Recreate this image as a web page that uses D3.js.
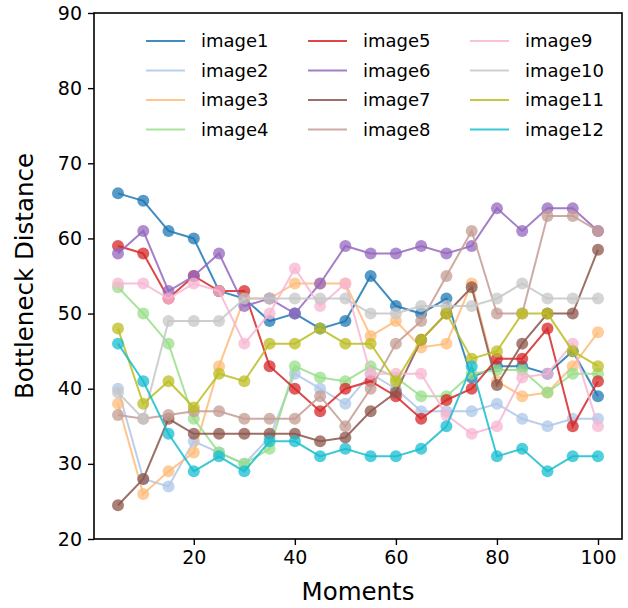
<!DOCTYPE html>
<html>
<head>
<meta charset="utf-8">
<script src="https://cdn.jsdelivr.net/npm/d3@7"></script>
<style>
  body { margin: 0; background: #fff; }
  svg text { font-family: "DejaVu Sans", sans-serif; fill: #000; }
</style>
</head>
<body>
<svg id="chart" width="628" height="608"></svg>
<script>
// moments on the x axis
var moments = [5, 10, 15, 20, 25, 30, 35, 40, 45, 50, 55, 60, 65, 70, 75, 80, 85, 90, 95, 100];

var image1  = [66, 65, 61, 60, 53, 52, 49, 50, 48, 49, 55, 51, 50, 52, 41.5, 43, 43, 42, 45, 39];
var image2  = [40, 28, 27, 33, 31.5, 30, 33.5, 42, 40, 38, 42, 40, 37, 37, 37, 38, 36, 35, 36, 36];
var image3  = [38, 26, 29, 31.5, 43, 52, 52, 54, 54, 54, 47, 49, 45.5, 46, 54, 41, 39, 39.5, 43, 47.5];
var image4  = [53.5, 50, 46, 36, 31.5, 30, 32, 43, 41.5, 41, 43, 41.5, 39, 39, 42, 42.5, 42.5, 39.5, 42, 42];
var image5  = [59, 58, 52, 55, 53, 53, 43, 40, 37, 40, 41, 39, 36, 38.5, 40, 44, 44, 48, 35, 41];
var image6  = [58, 61, 53, 55, 58, 51, 52, 50, 54, 59, 58, 58, 59, 58, 59, 64, 61, 64, 64, 61];
var image7  = [24.5, 28, 36, 34, 34, 34, 34, 34, 33, 33.5, 37, 39.5, 46.5, 50, 53.5, 40.5, 46, 50, 50, 58.5];
var image8  = [36.5, 36, 36.5, 37, 37, 36, 36, 36, 39, 35, 40, 46, 49, 55, 61, 50, 50, 63, 63, 61];
var image9  = [54, 54, 52, 54, 53, 46, 50, 56, 51, 54, 42, 42, 42, 36.5, 34, 35, 41.5, 42, 46, 35];
var image10 = [39.5, 36, 49, 49, 49, 52, 52, 52, 52, 52, 50, 50, 51, 51, 51, 52, 54, 52, 52, 52];
var image11 = [48, 38, 41, 37.5, 42, 41, 46, 46, 48, 46, 46, 41, 46.5, 50, 44, 45, 50, 50, 45, 43];
var image12 = [46, 41, 34, 29, 31, 29, 33, 33, 31, 32, 31, 31, 32, 35, 43, 31, 32, 29, 31, 31];

var seriesNames  = ["image1", "image2", "image3", "image4", "image5", "image6",
                    "image7", "image8", "image9", "image10", "image11", "image12"];
var seriesValues = [image1, image2, image3, image4, image5, image6,
                    image7, image8, image9, image10, image11, image12];
var xTicks = [20, 40, 60, 80, 100];
var yTicks = [20, 30, 40, 50, 60, 70, 80, 90];

// tab20, even entries and light entries as matplotlib hands them out
var colors = ["#1f77b4", "#aec7e8", "#ffbb78", "#98df8a", "#d62728", "#9467bd",
              "#8c564b", "#c49c94", "#f7b6d2", "#c7c7c7", "#bcbd22", "#17becf"];

var gMargin = {top: 13, right: 6, bottom: 69, left: 94};
var gWidth  = 628 - gMargin.left - gMargin.right;
var gHeight = 608 - gMargin.top - gMargin.bottom;

var svg = d3.select("#chart");
var lPlot = svg.append("g")
    .attr("transform", "translate(" + gMargin.left + "," + gMargin.top + ")");

var x = d3.scaleLinear().domain([0.25, 104.75]).range([0, gWidth]);
var y = d3.scaleLinear().domain([20, 90]).range([gHeight, 0]);

var lLine = d3.line()
    .x(function (d, i) { return x(moments[i]); })
    .y(function (d) { return y(d); });

seriesValues.forEach(function (vals, k) {
  var g = lPlot.append("g").attr("class", "series");
  g.append("path")
      .datum(vals)
      .attr("d", lLine)
      .attr("fill", "none")
      .attr("stroke", colors[k])
      .attr("stroke-opacity", 0.85)
      .attr("stroke-width", 2);
  g.selectAll("circle")
      .data(vals)
    .enter().append("circle")
      .attr("cx", function (d, i) { return x(moments[i]); })
      .attr("cy", function (d) { return y(d); })
      .attr("r", 6)
      .attr("fill", colors[k])
      .attr("fill-opacity", 0.75);
});

// axes
var xAxis = lPlot.append("g")
    .attr("transform", "translate(0," + gHeight + ")")
    .call(d3.axisBottom(x).tickValues(xTicks).tickSize(6).tickPadding(6));
var yAxis = lPlot.append("g")
    .call(d3.axisLeft(y).tickValues(yTicks).tickSize(6).tickPadding(6));

[xAxis, yAxis].forEach(function (a) {
  a.select(".domain").remove();
  a.selectAll(".tick line").attr("stroke", "#000").attr("stroke-width", 1.4);
  a.selectAll(".tick text")
      .style("font-family", "DejaVu Sans, sans-serif")
      .style("font-size", "19px")
      .attr("fill", "#000");
});

lPlot.append("rect")
    .attr("width", gWidth)
    .attr("height", gHeight)
    .attr("fill", "none")
    .attr("stroke", "#000")
    .attr("stroke-width", 1.6);

// axis titles
svg.append("text")
    .attr("x", gMargin.left + gWidth / 2)
    .attr("y", 600)
    .attr("text-anchor", "middle")
    .style("font-size", "24.5px")
    .text("Moments");

svg.append("text")
    .attr("transform", "translate(33," + (gMargin.top + gHeight / 2) + ") rotate(-90)")
    .attr("text-anchor", "middle")
    .style("font-size", "24.5px")
    .text("Bottleneck Distance");

// legend, 3 columns x 4 rows, no frame
var lLegend = lPlot.append("g").attr("class", "legend");
var legCols = [52, 214, 376];
seriesNames.forEach(function (name, k) {
  var col = Math.floor(k / 4), row = k % 4;
  var gx = legCols[col], gy = 28 + row * 29.5;
  lLegend.append("line")
      .attr("x1", gx).attr("x2", gx + 39)
      .attr("y1", gy).attr("y2", gy)
      .attr("stroke", colors[k])
      .attr("stroke-opacity", 0.85)
      .attr("stroke-width", 2);
  lLegend.append("text")
      .attr("x", gx + 55)
      .attr("y", gy)
      .attr("dy", "0.35em")
      .style("font-size", "18px")
      .text(name);
});
</script>
</body>
</html>
